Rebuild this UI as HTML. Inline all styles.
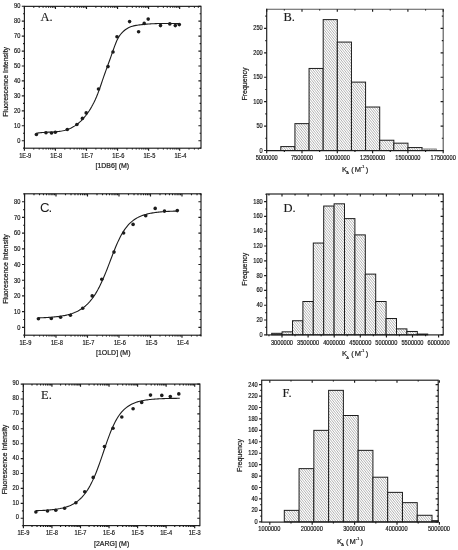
<!DOCTYPE html>
<html><head><meta charset="utf-8"><title>Figure</title><style>html,body{margin:0;padding:0;background:#fff}svg{display:block}</style></head><body>
<svg width="458" height="550" viewBox="0 0 458 550">
<defs><pattern id="hatch" width="12" height="3" patternUnits="userSpaceOnUse"><rect width="12" height="3" fill="#fff"/><path d="M-5.30,-1L-1.30,4 M-2.90,-1L1.10,4 M-0.50,-1L3.50,4 M1.90,-1L5.90,4 M4.30,-1L8.30,4 M6.70,-1L10.70,4 M9.10,-1L13.10,4 M11.50,-1L15.50,4" stroke="#929292" stroke-width="0.7" fill="none"/></pattern></defs>
<rect width="458" height="550" fill="#fff"/>
<rect x="24.40" y="6.35" width="176.60" height="141.85" fill="none" stroke="#1c1c1c" stroke-width="1.15"/>
<text transform="translate(20.40 142.50) scale(0.9,1)" font-size="6.3" text-anchor="end" font-family='"Liberation Sans", sans-serif' fill="#1c1c1c" stroke="#1c1c1c" stroke-width="0.2">0</text>
<text transform="translate(20.40 127.56) scale(0.9,1)" font-size="6.3" text-anchor="end" font-family='"Liberation Sans", sans-serif' fill="#1c1c1c" stroke="#1c1c1c" stroke-width="0.2">10</text>
<text transform="translate(20.40 112.62) scale(0.9,1)" font-size="6.3" text-anchor="end" font-family='"Liberation Sans", sans-serif' fill="#1c1c1c" stroke="#1c1c1c" stroke-width="0.2">20</text>
<text transform="translate(20.40 97.68) scale(0.9,1)" font-size="6.3" text-anchor="end" font-family='"Liberation Sans", sans-serif' fill="#1c1c1c" stroke="#1c1c1c" stroke-width="0.2">30</text>
<text transform="translate(20.40 82.74) scale(0.9,1)" font-size="6.3" text-anchor="end" font-family='"Liberation Sans", sans-serif' fill="#1c1c1c" stroke="#1c1c1c" stroke-width="0.2">40</text>
<text transform="translate(20.40 67.80) scale(0.9,1)" font-size="6.3" text-anchor="end" font-family='"Liberation Sans", sans-serif' fill="#1c1c1c" stroke="#1c1c1c" stroke-width="0.2">50</text>
<text transform="translate(20.40 52.86) scale(0.9,1)" font-size="6.3" text-anchor="end" font-family='"Liberation Sans", sans-serif' fill="#1c1c1c" stroke="#1c1c1c" stroke-width="0.2">60</text>
<text transform="translate(20.40 37.92) scale(0.9,1)" font-size="6.3" text-anchor="end" font-family='"Liberation Sans", sans-serif' fill="#1c1c1c" stroke="#1c1c1c" stroke-width="0.2">70</text>
<text transform="translate(20.40 22.98) scale(0.9,1)" font-size="6.3" text-anchor="end" font-family='"Liberation Sans", sans-serif' fill="#1c1c1c" stroke="#1c1c1c" stroke-width="0.2">80</text>
<text transform="translate(20.40 8.04) scale(0.9,1)" font-size="6.3" text-anchor="end" font-family='"Liberation Sans", sans-serif' fill="#1c1c1c" stroke="#1c1c1c" stroke-width="0.2">90</text>
<text transform="translate(25.20 157.90) scale(0.9,1)" font-size="6.3" text-anchor="middle" font-family='"Liberation Sans", sans-serif' fill="#1c1c1c" stroke="#1c1c1c" stroke-width="0.2">1E-9</text>
<text transform="translate(56.25 157.90) scale(0.9,1)" font-size="6.3" text-anchor="middle" font-family='"Liberation Sans", sans-serif' fill="#1c1c1c" stroke="#1c1c1c" stroke-width="0.2">1E-8</text>
<text transform="translate(87.30 157.90) scale(0.9,1)" font-size="6.3" text-anchor="middle" font-family='"Liberation Sans", sans-serif' fill="#1c1c1c" stroke="#1c1c1c" stroke-width="0.2">1E-7</text>
<text transform="translate(118.35 157.90) scale(0.9,1)" font-size="6.3" text-anchor="middle" font-family='"Liberation Sans", sans-serif' fill="#1c1c1c" stroke="#1c1c1c" stroke-width="0.2">1E-6</text>
<text transform="translate(149.40 157.90) scale(0.9,1)" font-size="6.3" text-anchor="middle" font-family='"Liberation Sans", sans-serif' fill="#1c1c1c" stroke="#1c1c1c" stroke-width="0.2">1E-5</text>
<text transform="translate(180.45 157.90) scale(0.9,1)" font-size="6.3" text-anchor="middle" font-family='"Liberation Sans", sans-serif' fill="#1c1c1c" stroke="#1c1c1c" stroke-width="0.2">1E-4</text>
<path d="M21.80,140.70L24.40,140.70M198.40,140.70L201.00,140.70M21.80,125.76L24.40,125.76M198.40,125.76L201.00,125.76M21.80,110.82L24.40,110.82M198.40,110.82L201.00,110.82M21.80,95.88L24.40,95.88M198.40,95.88L201.00,95.88M21.80,80.94L24.40,80.94M198.40,80.94L201.00,80.94M21.80,66.00L24.40,66.00M198.40,66.00L201.00,66.00M21.80,51.06L24.40,51.06M198.40,51.06L201.00,51.06M21.80,36.12L24.40,36.12M198.40,36.12L201.00,36.12M21.80,21.18L24.40,21.18M198.40,21.18L201.00,21.18M21.80,6.24L24.40,6.24M198.40,6.24L201.00,6.24M23.00,148.17L24.40,148.17M199.60,148.17L201.00,148.17M23.00,133.23L24.40,133.23M199.60,133.23L201.00,133.23M23.00,118.29L24.40,118.29M199.60,118.29L201.00,118.29M23.00,103.35L24.40,103.35M199.60,103.35L201.00,103.35M23.00,88.41L24.40,88.41M199.60,88.41L201.00,88.41M23.00,73.47L24.40,73.47M199.60,73.47L201.00,73.47M23.00,58.53L24.40,58.53M199.60,58.53L201.00,58.53M23.00,43.59L24.40,43.59M199.60,43.59L201.00,43.59M23.00,28.65L24.40,28.65M199.60,28.65L201.00,28.65M23.00,13.71L24.40,13.71M199.60,13.71L201.00,13.71M24.40,148.20L24.40,150.80M24.40,6.35L24.40,8.95M55.45,148.20L55.45,150.80M55.45,6.35L55.45,8.95M86.50,148.20L86.50,150.80M86.50,6.35L86.50,8.95M117.55,148.20L117.55,150.80M117.55,6.35L117.55,8.95M148.60,148.20L148.60,150.80M148.60,6.35L148.60,8.95M179.65,148.20L179.65,150.80M179.65,6.35L179.65,8.95M33.75,148.20L33.75,149.60M33.75,6.35L33.75,7.75M39.21,148.20L39.21,149.60M39.21,6.35L39.21,7.75M43.09,148.20L43.09,149.60M43.09,6.35L43.09,7.75M46.10,148.20L46.10,149.60M46.10,6.35L46.10,7.75M48.56,148.20L48.56,149.60M48.56,6.35L48.56,7.75M50.64,148.20L50.64,149.60M50.64,6.35L50.64,7.75M52.44,148.20L52.44,149.60M52.44,6.35L52.44,7.75M54.03,148.20L54.03,149.60M54.03,6.35L54.03,7.75M64.80,148.20L64.80,149.60M64.80,6.35L64.80,7.75M70.26,148.20L70.26,149.60M70.26,6.35L70.26,7.75M74.14,148.20L74.14,149.60M74.14,6.35L74.14,7.75M77.15,148.20L77.15,149.60M77.15,6.35L77.15,7.75M79.61,148.20L79.61,149.60M79.61,6.35L79.61,7.75M81.69,148.20L81.69,149.60M81.69,6.35L81.69,7.75M83.49,148.20L83.49,149.60M83.49,6.35L83.49,7.75M85.08,148.20L85.08,149.60M85.08,6.35L85.08,7.75M95.85,148.20L95.85,149.60M95.85,6.35L95.85,7.75M101.31,148.20L101.31,149.60M101.31,6.35L101.31,7.75M105.19,148.20L105.19,149.60M105.19,6.35L105.19,7.75M108.20,148.20L108.20,149.60M108.20,6.35L108.20,7.75M110.66,148.20L110.66,149.60M110.66,6.35L110.66,7.75M112.74,148.20L112.74,149.60M112.74,6.35L112.74,7.75M114.54,148.20L114.54,149.60M114.54,6.35L114.54,7.75M116.13,148.20L116.13,149.60M116.13,6.35L116.13,7.75M126.90,148.20L126.90,149.60M126.90,6.35L126.90,7.75M132.36,148.20L132.36,149.60M132.36,6.35L132.36,7.75M136.24,148.20L136.24,149.60M136.24,6.35L136.24,7.75M139.25,148.20L139.25,149.60M139.25,6.35L139.25,7.75M141.71,148.20L141.71,149.60M141.71,6.35L141.71,7.75M143.79,148.20L143.79,149.60M143.79,6.35L143.79,7.75M145.59,148.20L145.59,149.60M145.59,6.35L145.59,7.75M147.18,148.20L147.18,149.60M147.18,6.35L147.18,7.75M157.95,148.20L157.95,149.60M157.95,6.35L157.95,7.75M163.41,148.20L163.41,149.60M163.41,6.35L163.41,7.75M167.29,148.20L167.29,149.60M167.29,6.35L167.29,7.75M170.30,148.20L170.30,149.60M170.30,6.35L170.30,7.75M172.76,148.20L172.76,149.60M172.76,6.35L172.76,7.75M174.84,148.20L174.84,149.60M174.84,6.35L174.84,7.75M176.64,148.20L176.64,149.60M176.64,6.35L176.64,7.75M178.23,148.20L178.23,149.60M178.23,6.35L178.23,7.75M189.00,148.20L189.00,149.60M189.00,6.35L189.00,7.75M194.46,148.20L194.46,149.60M194.46,6.35L194.46,7.75M198.34,148.20L198.34,149.60M198.34,6.35L198.34,7.75" fill="none" stroke="#1c1c1c" stroke-width="1.15"/>
<path d="M36.40,133.30 L37.60,133.09 L38.80,132.91 L40.00,132.75 L41.20,132.62 L42.40,132.52 L43.61,132.43 L44.81,132.35 L46.01,132.28 L47.21,132.23 L48.41,132.17 L49.61,132.12 L50.81,132.07 L52.01,132.01 L53.21,131.95 L54.41,131.87 L55.61,131.78 L56.81,131.67 L58.02,131.55 L59.22,131.40 L60.42,131.22 L61.62,131.01 L62.82,130.77 L64.02,130.49 L65.22,130.18 L66.42,129.82 L67.62,129.41 L68.82,128.96 L70.02,128.46 L71.22,127.90 L72.43,127.28 L73.63,126.60 L74.83,125.86 L76.03,125.05 L77.23,124.17 L78.43,123.21 L79.63,122.18 L80.83,121.07 L82.03,119.87 L83.23,118.59 L84.43,117.22 L85.63,115.75 L86.84,114.19 L88.04,112.53 L89.24,110.75 L90.44,108.84 L91.64,106.79 L92.84,104.58 L94.04,102.21 L95.24,99.67 L96.44,96.93 L97.64,93.99 L98.84,90.84 L100.04,87.47 L101.25,83.97 L102.45,80.43 L103.65,76.94 L104.85,73.53 L106.05,70.18 L107.25,66.86 L108.45,63.55 L109.65,60.22 L110.85,56.84 L112.05,53.40 L113.25,49.95 L114.45,46.59 L115.66,43.44 L116.86,40.59 L118.06,38.14 L119.26,36.13 L120.46,34.48 L121.66,33.08 L122.86,31.85 L124.06,30.76 L125.26,29.79 L126.46,28.95 L127.66,28.22 L128.86,27.59 L130.07,27.05 L131.27,26.60 L132.47,26.21 L133.67,25.89 L134.87,25.62 L136.07,25.39 L137.27,25.19 L138.47,25.02 L139.67,24.87 L140.87,24.72 L142.07,24.59 L143.27,24.46 L144.48,24.34 L145.68,24.23 L146.88,24.13 L148.08,24.04 L149.28,23.96 L150.48,23.88 L151.68,23.81 L152.88,23.75 L154.08,23.69 L155.28,23.64 L156.48,23.60 L157.68,23.56 L158.89,23.55 L160.09,23.55 L161.29,23.55 L162.49,23.55 L163.69,23.55 L164.89,23.55 L166.09,23.55 L167.29,23.55 L168.49,23.55 L169.69,23.55 L170.89,23.55 L172.09,23.55 L173.30,23.55 L174.50,23.55 L175.70,23.57 L176.90,23.60 L178.10,23.63 L179.30,23.66" fill="none" stroke="#1c1c1c" stroke-width="1.1"/>
<circle cx="36.40" cy="134.50" r="1.8" fill="#1c1c1c"/>
<circle cx="46.00" cy="132.80" r="1.8" fill="#1c1c1c"/>
<circle cx="51.50" cy="133.00" r="1.8" fill="#1c1c1c"/>
<circle cx="55.30" cy="132.30" r="1.8" fill="#1c1c1c"/>
<circle cx="67.30" cy="129.50" r="1.8" fill="#1c1c1c"/>
<circle cx="76.90" cy="124.50" r="1.8" fill="#1c1c1c"/>
<circle cx="82.40" cy="118.40" r="1.8" fill="#1c1c1c"/>
<circle cx="86.20" cy="112.90" r="1.8" fill="#1c1c1c"/>
<circle cx="98.50" cy="89.00" r="1.8" fill="#1c1c1c"/>
<circle cx="108.00" cy="66.60" r="1.8" fill="#1c1c1c"/>
<circle cx="113.00" cy="52.00" r="1.8" fill="#1c1c1c"/>
<circle cx="117.00" cy="36.70" r="1.8" fill="#1c1c1c"/>
<circle cx="129.60" cy="21.60" r="1.8" fill="#1c1c1c"/>
<circle cx="138.60" cy="31.70" r="1.8" fill="#1c1c1c"/>
<circle cx="144.20" cy="23.40" r="1.8" fill="#1c1c1c"/>
<circle cx="148.20" cy="19.10" r="1.8" fill="#1c1c1c"/>
<circle cx="160.50" cy="25.60" r="1.8" fill="#1c1c1c"/>
<circle cx="169.80" cy="23.90" r="1.8" fill="#1c1c1c"/>
<circle cx="175.30" cy="25.60" r="1.8" fill="#1c1c1c"/>
<circle cx="179.30" cy="24.60" r="1.8" fill="#1c1c1c"/>
<text transform="translate(40.50 21.00)" font-size="12.5" text-anchor="start" font-family='"Liberation Serif", serif' fill="#1c1c1c" stroke="#1c1c1c" stroke-width="0.15">A.</text>
<text transform="translate(95.50 167.80) scale(0.93,1)" font-size="7.5" text-anchor="start" font-family='"Liberation Sans", sans-serif' fill="#1c1c1c" stroke="#1c1c1c" stroke-width="0.22">[1DB6] (M)</text>
<text transform="translate(7.60 81.80) rotate(-90) scale(0.93,1)" font-size="7.5" text-anchor="middle" font-family='"Liberation Sans", sans-serif' fill="#1c1c1c" stroke="#1c1c1c" stroke-width="0.22">Fluorescence Intensity</text>
<rect x="24.60" y="193.80" width="176.40" height="141.40" fill="none" stroke="#1c1c1c" stroke-width="1.15"/>
<text transform="translate(20.30 329.60) scale(0.9,1)" font-size="6.3" text-anchor="end" font-family='"Liberation Sans", sans-serif' fill="#1c1c1c" stroke="#1c1c1c" stroke-width="0.2">0</text>
<text transform="translate(20.30 313.90) scale(0.9,1)" font-size="6.3" text-anchor="end" font-family='"Liberation Sans", sans-serif' fill="#1c1c1c" stroke="#1c1c1c" stroke-width="0.2">10</text>
<text transform="translate(20.30 298.20) scale(0.9,1)" font-size="6.3" text-anchor="end" font-family='"Liberation Sans", sans-serif' fill="#1c1c1c" stroke="#1c1c1c" stroke-width="0.2">20</text>
<text transform="translate(20.30 282.50) scale(0.9,1)" font-size="6.3" text-anchor="end" font-family='"Liberation Sans", sans-serif' fill="#1c1c1c" stroke="#1c1c1c" stroke-width="0.2">30</text>
<text transform="translate(20.30 266.80) scale(0.9,1)" font-size="6.3" text-anchor="end" font-family='"Liberation Sans", sans-serif' fill="#1c1c1c" stroke="#1c1c1c" stroke-width="0.2">40</text>
<text transform="translate(20.30 251.10) scale(0.9,1)" font-size="6.3" text-anchor="end" font-family='"Liberation Sans", sans-serif' fill="#1c1c1c" stroke="#1c1c1c" stroke-width="0.2">50</text>
<text transform="translate(20.30 235.40) scale(0.9,1)" font-size="6.3" text-anchor="end" font-family='"Liberation Sans", sans-serif' fill="#1c1c1c" stroke="#1c1c1c" stroke-width="0.2">60</text>
<text transform="translate(20.30 219.70) scale(0.9,1)" font-size="6.3" text-anchor="end" font-family='"Liberation Sans", sans-serif' fill="#1c1c1c" stroke="#1c1c1c" stroke-width="0.2">70</text>
<text transform="translate(20.30 204.00) scale(0.9,1)" font-size="6.3" text-anchor="end" font-family='"Liberation Sans", sans-serif' fill="#1c1c1c" stroke="#1c1c1c" stroke-width="0.2">80</text>
<text transform="translate(25.40 345.10) scale(0.9,1)" font-size="6.3" text-anchor="middle" font-family='"Liberation Sans", sans-serif' fill="#1c1c1c" stroke="#1c1c1c" stroke-width="0.2">1E-9</text>
<text transform="translate(56.90 345.10) scale(0.9,1)" font-size="6.3" text-anchor="middle" font-family='"Liberation Sans", sans-serif' fill="#1c1c1c" stroke="#1c1c1c" stroke-width="0.2">1E-8</text>
<text transform="translate(88.40 345.10) scale(0.9,1)" font-size="6.3" text-anchor="middle" font-family='"Liberation Sans", sans-serif' fill="#1c1c1c" stroke="#1c1c1c" stroke-width="0.2">1E-7</text>
<text transform="translate(119.90 345.10) scale(0.9,1)" font-size="6.3" text-anchor="middle" font-family='"Liberation Sans", sans-serif' fill="#1c1c1c" stroke="#1c1c1c" stroke-width="0.2">1E-6</text>
<text transform="translate(151.40 345.10) scale(0.9,1)" font-size="6.3" text-anchor="middle" font-family='"Liberation Sans", sans-serif' fill="#1c1c1c" stroke="#1c1c1c" stroke-width="0.2">1E-5</text>
<text transform="translate(182.90 345.10) scale(0.9,1)" font-size="6.3" text-anchor="middle" font-family='"Liberation Sans", sans-serif' fill="#1c1c1c" stroke="#1c1c1c" stroke-width="0.2">1E-4</text>
<path d="M22.00,327.30L24.60,327.30M198.40,327.30L201.00,327.30M22.00,311.60L24.60,311.60M198.40,311.60L201.00,311.60M22.00,295.90L24.60,295.90M198.40,295.90L201.00,295.90M22.00,280.20L24.60,280.20M198.40,280.20L201.00,280.20M22.00,264.50L24.60,264.50M198.40,264.50L201.00,264.50M22.00,248.80L24.60,248.80M198.40,248.80L201.00,248.80M22.00,233.10L24.60,233.10M198.40,233.10L201.00,233.10M22.00,217.40L24.60,217.40M198.40,217.40L201.00,217.40M22.00,201.70L24.60,201.70M198.40,201.70L201.00,201.70M23.20,335.15L24.60,335.15M199.60,335.15L201.00,335.15M23.20,319.45L24.60,319.45M199.60,319.45L201.00,319.45M23.20,303.75L24.60,303.75M199.60,303.75L201.00,303.75M23.20,288.05L24.60,288.05M199.60,288.05L201.00,288.05M23.20,272.35L24.60,272.35M199.60,272.35L201.00,272.35M23.20,256.65L24.60,256.65M199.60,256.65L201.00,256.65M23.20,240.95L24.60,240.95M199.60,240.95L201.00,240.95M23.20,225.25L24.60,225.25M199.60,225.25L201.00,225.25M23.20,209.55L24.60,209.55M199.60,209.55L201.00,209.55M23.20,193.85L24.60,193.85M199.60,193.85L201.00,193.85M24.50,335.20L24.50,337.80M24.50,193.80L24.50,196.40M56.00,335.20L56.00,337.80M56.00,193.80L56.00,196.40M87.50,335.20L87.50,337.80M87.50,193.80L87.50,196.40M119.00,335.20L119.00,337.80M119.00,193.80L119.00,196.40M150.50,335.20L150.50,337.80M150.50,193.80L150.50,196.40M182.00,335.20L182.00,337.80M182.00,193.80L182.00,196.40M33.98,335.20L33.98,336.60M33.98,193.80L33.98,195.20M39.53,335.20L39.53,336.60M39.53,193.80L39.53,195.20M43.46,335.20L43.46,336.60M43.46,193.80L43.46,195.20M46.52,335.20L46.52,336.60M46.52,193.80L46.52,195.20M49.01,335.20L49.01,336.60M49.01,193.80L49.01,195.20M51.12,335.20L51.12,336.60M51.12,193.80L51.12,195.20M52.95,335.20L52.95,336.60M52.95,193.80L52.95,195.20M54.56,335.20L54.56,336.60M54.56,193.80L54.56,195.20M65.48,335.20L65.48,336.60M65.48,193.80L65.48,195.20M71.03,335.20L71.03,336.60M71.03,193.80L71.03,195.20M74.96,335.20L74.96,336.60M74.96,193.80L74.96,195.20M78.02,335.20L78.02,336.60M78.02,193.80L78.02,195.20M80.51,335.20L80.51,336.60M80.51,193.80L80.51,195.20M82.62,335.20L82.62,336.60M82.62,193.80L82.62,195.20M84.45,335.20L84.45,336.60M84.45,193.80L84.45,195.20M86.06,335.20L86.06,336.60M86.06,193.80L86.06,195.20M96.98,335.20L96.98,336.60M96.98,193.80L96.98,195.20M102.53,335.20L102.53,336.60M102.53,193.80L102.53,195.20M106.46,335.20L106.46,336.60M106.46,193.80L106.46,195.20M109.52,335.20L109.52,336.60M109.52,193.80L109.52,195.20M112.01,335.20L112.01,336.60M112.01,193.80L112.01,195.20M114.12,335.20L114.12,336.60M114.12,193.80L114.12,195.20M115.95,335.20L115.95,336.60M115.95,193.80L115.95,195.20M117.56,335.20L117.56,336.60M117.56,193.80L117.56,195.20M128.48,335.20L128.48,336.60M128.48,193.80L128.48,195.20M134.03,335.20L134.03,336.60M134.03,193.80L134.03,195.20M137.96,335.20L137.96,336.60M137.96,193.80L137.96,195.20M141.02,335.20L141.02,336.60M141.02,193.80L141.02,195.20M143.51,335.20L143.51,336.60M143.51,193.80L143.51,195.20M145.62,335.20L145.62,336.60M145.62,193.80L145.62,195.20M147.45,335.20L147.45,336.60M147.45,193.80L147.45,195.20M149.06,335.20L149.06,336.60M149.06,193.80L149.06,195.20M159.98,335.20L159.98,336.60M159.98,193.80L159.98,195.20M165.53,335.20L165.53,336.60M165.53,193.80L165.53,195.20M169.46,335.20L169.46,336.60M169.46,193.80L169.46,195.20M172.52,335.20L172.52,336.60M172.52,193.80L172.52,195.20M175.01,335.20L175.01,336.60M175.01,193.80L175.01,195.20M177.12,335.20L177.12,336.60M177.12,193.80L177.12,195.20M178.95,335.20L178.95,336.60M178.95,193.80L178.95,195.20M180.56,335.20L180.56,336.60M180.56,193.80L180.56,195.20M191.48,335.20L191.48,336.60M191.48,193.80L191.48,195.20M197.03,335.20L197.03,336.60M197.03,193.80L197.03,195.20M200.96,335.20L200.96,336.60M200.96,193.80L200.96,195.20" fill="none" stroke="#1c1c1c" stroke-width="1.15"/>
<path d="M38.40,317.86 L39.57,317.83 L40.73,317.79 L41.90,317.74 L43.07,317.70 L44.24,317.64 L45.40,317.59 L46.57,317.53 L47.74,317.46 L48.91,317.39 L50.07,317.31 L51.24,317.22 L52.41,317.13 L53.57,317.03 L54.74,316.92 L55.91,316.79 L57.08,316.66 L58.24,316.52 L59.41,316.36 L60.58,316.20 L61.74,316.01 L62.91,315.81 L64.08,315.59 L65.25,315.36 L66.41,315.10 L67.58,314.82 L68.75,314.51 L69.92,314.18 L71.08,313.82 L72.25,313.43 L73.42,313.01 L74.58,312.55 L75.75,312.05 L76.92,311.51 L78.09,310.92 L79.25,310.28 L80.42,309.59 L81.59,308.84 L82.75,308.03 L83.92,307.15 L85.09,306.21 L86.26,305.18 L87.42,304.07 L88.59,302.88 L89.76,301.60 L90.93,300.21 L92.09,298.73 L93.26,297.13 L94.43,295.43 L95.59,293.60 L96.76,291.65 L97.93,289.58 L99.10,287.38 L100.26,285.06 L101.43,282.61 L102.60,280.03 L103.76,277.34 L104.93,274.55 L106.10,271.66 L107.27,268.69 L108.43,265.66 L109.60,262.60 L110.77,259.51 L111.94,256.45 L113.10,253.41 L114.27,250.45 L115.44,247.57 L116.60,244.80 L117.77,242.15 L118.94,239.65 L120.11,237.29 L121.27,235.09 L122.44,233.04 L123.61,231.15 L124.77,229.40 L125.94,227.79 L127.11,226.31 L128.28,224.96 L129.44,223.72 L130.61,222.60 L131.78,221.57 L132.95,220.63 L134.11,219.77 L135.28,218.99 L136.45,218.28 L137.61,217.63 L138.78,217.04 L139.95,216.50 L141.12,216.00 L142.28,215.55 L143.45,215.14 L144.62,214.77 L145.78,214.42 L146.95,214.11 L148.12,213.83 L149.29,213.56 L150.45,213.32 L151.62,213.11 L152.79,212.90 L153.96,212.72 L155.12,212.55 L156.29,212.40 L157.46,212.26 L158.62,212.13 L159.79,212.01 L160.96,211.90 L162.13,211.80 L163.29,211.71 L164.46,211.63 L165.63,211.55 L166.79,211.48 L167.96,211.42 L169.13,211.36 L170.30,211.30 L171.46,211.25 L172.63,211.21 L173.80,211.17 L174.97,211.13 L176.13,211.09 L177.30,211.06" fill="none" stroke="#1c1c1c" stroke-width="1.1"/>
<circle cx="38.40" cy="318.70" r="1.8" fill="#1c1c1c"/>
<circle cx="51.30" cy="318.50" r="1.8" fill="#1c1c1c"/>
<circle cx="60.60" cy="317.20" r="1.8" fill="#1c1c1c"/>
<circle cx="70.40" cy="315.20" r="1.8" fill="#1c1c1c"/>
<circle cx="82.70" cy="308.20" r="1.8" fill="#1c1c1c"/>
<circle cx="92.20" cy="295.90" r="1.8" fill="#1c1c1c"/>
<circle cx="101.80" cy="279.30" r="1.8" fill="#1c1c1c"/>
<circle cx="114.00" cy="252.10" r="1.8" fill="#1c1c1c"/>
<circle cx="123.60" cy="233.00" r="1.8" fill="#1c1c1c"/>
<circle cx="133.10" cy="224.40" r="1.8" fill="#1c1c1c"/>
<circle cx="145.70" cy="215.70" r="1.8" fill="#1c1c1c"/>
<circle cx="155.20" cy="208.40" r="1.8" fill="#1c1c1c"/>
<circle cx="164.50" cy="211.10" r="1.8" fill="#1c1c1c"/>
<circle cx="177.30" cy="210.60" r="1.8" fill="#1c1c1c"/>
<text transform="translate(40.00 212.00) scale(1.1,1)" font-size="12" text-anchor="start" font-family='"Liberation Sans", sans-serif' fill="#1c1c1c" stroke="#1c1c1c" stroke-width="0" letter-spacing="-0.9">C.</text>
<text transform="translate(96.00 355.00) scale(0.93,1)" font-size="7.5" text-anchor="start" font-family='"Liberation Sans", sans-serif' fill="#1c1c1c" stroke="#1c1c1c" stroke-width="0.22">[1OLD] (M)</text>
<text transform="translate(7.60 269.00) rotate(-90) scale(0.93,1)" font-size="7.5" text-anchor="middle" font-family='"Liberation Sans", sans-serif' fill="#1c1c1c" stroke="#1c1c1c" stroke-width="0.22">Fluorescence Intensity</text>
<rect x="23.30" y="384.05" width="176.60" height="141.55" fill="none" stroke="#1c1c1c" stroke-width="1.15"/>
<text transform="translate(18.80 519.45) scale(0.9,1)" font-size="6.3" text-anchor="end" font-family='"Liberation Sans", sans-serif' fill="#1c1c1c" stroke="#1c1c1c" stroke-width="0.2">0</text>
<text transform="translate(18.80 504.54) scale(0.9,1)" font-size="6.3" text-anchor="end" font-family='"Liberation Sans", sans-serif' fill="#1c1c1c" stroke="#1c1c1c" stroke-width="0.2">10</text>
<text transform="translate(18.80 489.63) scale(0.9,1)" font-size="6.3" text-anchor="end" font-family='"Liberation Sans", sans-serif' fill="#1c1c1c" stroke="#1c1c1c" stroke-width="0.2">20</text>
<text transform="translate(18.80 474.72) scale(0.9,1)" font-size="6.3" text-anchor="end" font-family='"Liberation Sans", sans-serif' fill="#1c1c1c" stroke="#1c1c1c" stroke-width="0.2">30</text>
<text transform="translate(18.80 459.81) scale(0.9,1)" font-size="6.3" text-anchor="end" font-family='"Liberation Sans", sans-serif' fill="#1c1c1c" stroke="#1c1c1c" stroke-width="0.2">40</text>
<text transform="translate(18.80 444.90) scale(0.9,1)" font-size="6.3" text-anchor="end" font-family='"Liberation Sans", sans-serif' fill="#1c1c1c" stroke="#1c1c1c" stroke-width="0.2">50</text>
<text transform="translate(18.80 429.99) scale(0.9,1)" font-size="6.3" text-anchor="end" font-family='"Liberation Sans", sans-serif' fill="#1c1c1c" stroke="#1c1c1c" stroke-width="0.2">60</text>
<text transform="translate(18.80 415.08) scale(0.9,1)" font-size="6.3" text-anchor="end" font-family='"Liberation Sans", sans-serif' fill="#1c1c1c" stroke="#1c1c1c" stroke-width="0.2">70</text>
<text transform="translate(18.80 400.17) scale(0.9,1)" font-size="6.3" text-anchor="end" font-family='"Liberation Sans", sans-serif' fill="#1c1c1c" stroke="#1c1c1c" stroke-width="0.2">80</text>
<text transform="translate(18.80 385.26) scale(0.9,1)" font-size="6.3" text-anchor="end" font-family='"Liberation Sans", sans-serif' fill="#1c1c1c" stroke="#1c1c1c" stroke-width="0.2">90</text>
<text transform="translate(23.40 534.50) scale(0.9,1)" font-size="6.3" text-anchor="middle" font-family='"Liberation Sans", sans-serif' fill="#1c1c1c" stroke="#1c1c1c" stroke-width="0.2">1E-9</text>
<text transform="translate(51.95 534.50) scale(0.9,1)" font-size="6.3" text-anchor="middle" font-family='"Liberation Sans", sans-serif' fill="#1c1c1c" stroke="#1c1c1c" stroke-width="0.2">1E-8</text>
<text transform="translate(80.50 534.50) scale(0.9,1)" font-size="6.3" text-anchor="middle" font-family='"Liberation Sans", sans-serif' fill="#1c1c1c" stroke="#1c1c1c" stroke-width="0.2">1E-7</text>
<text transform="translate(109.05 534.50) scale(0.9,1)" font-size="6.3" text-anchor="middle" font-family='"Liberation Sans", sans-serif' fill="#1c1c1c" stroke="#1c1c1c" stroke-width="0.2">1E-6</text>
<text transform="translate(137.60 534.50) scale(0.9,1)" font-size="6.3" text-anchor="middle" font-family='"Liberation Sans", sans-serif' fill="#1c1c1c" stroke="#1c1c1c" stroke-width="0.2">1E-5</text>
<text transform="translate(166.15 534.50) scale(0.9,1)" font-size="6.3" text-anchor="middle" font-family='"Liberation Sans", sans-serif' fill="#1c1c1c" stroke="#1c1c1c" stroke-width="0.2">1E-4</text>
<text transform="translate(194.70 534.50) scale(0.9,1)" font-size="6.3" text-anchor="middle" font-family='"Liberation Sans", sans-serif' fill="#1c1c1c" stroke="#1c1c1c" stroke-width="0.2">1E-3</text>
<path d="M20.70,518.25L23.30,518.25M197.30,518.25L199.90,518.25M20.70,503.34L23.30,503.34M197.30,503.34L199.90,503.34M20.70,488.43L23.30,488.43M197.30,488.43L199.90,488.43M20.70,473.52L23.30,473.52M197.30,473.52L199.90,473.52M20.70,458.61L23.30,458.61M197.30,458.61L199.90,458.61M20.70,443.70L23.30,443.70M197.30,443.70L199.90,443.70M20.70,428.79L23.30,428.79M197.30,428.79L199.90,428.79M20.70,413.88L23.30,413.88M197.30,413.88L199.90,413.88M20.70,398.97L23.30,398.97M197.30,398.97L199.90,398.97M20.70,384.06L23.30,384.06M197.30,384.06L199.90,384.06M21.90,525.71L23.30,525.71M198.50,525.71L199.90,525.71M21.90,510.80L23.30,510.80M198.50,510.80L199.90,510.80M21.90,495.89L23.30,495.89M198.50,495.89L199.90,495.89M21.90,480.98L23.30,480.98M198.50,480.98L199.90,480.98M21.90,466.07L23.30,466.07M198.50,466.07L199.90,466.07M21.90,451.16L23.30,451.16M198.50,451.16L199.90,451.16M21.90,436.25L23.30,436.25M198.50,436.25L199.90,436.25M21.90,421.34L23.30,421.34M198.50,421.34L199.90,421.34M21.90,406.43L23.30,406.43M198.50,406.43L199.90,406.43M21.90,391.52L23.30,391.52M198.50,391.52L199.90,391.52M23.40,525.60L23.40,528.20M23.40,384.05L23.40,386.65M51.95,525.60L51.95,528.20M51.95,384.05L51.95,386.65M80.50,525.60L80.50,528.20M80.50,384.05L80.50,386.65M109.05,525.60L109.05,528.20M109.05,384.05L109.05,386.65M137.60,525.60L137.60,528.20M137.60,384.05L137.60,386.65M166.15,525.60L166.15,528.20M166.15,384.05L166.15,386.65M194.70,525.60L194.70,528.20M194.70,384.05L194.70,386.65M31.99,525.60L31.99,527.00M31.99,384.05L31.99,385.45M37.02,525.60L37.02,527.00M37.02,384.05L37.02,385.45M40.59,525.60L40.59,527.00M40.59,384.05L40.59,385.45M43.36,525.60L43.36,527.00M43.36,384.05L43.36,385.45M45.62,525.60L45.62,527.00M45.62,384.05L45.62,385.45M47.53,525.60L47.53,527.00M47.53,384.05L47.53,385.45M49.18,525.60L49.18,527.00M49.18,384.05L49.18,385.45M50.64,525.60L50.64,527.00M50.64,384.05L50.64,385.45M60.54,525.60L60.54,527.00M60.54,384.05L60.54,385.45M65.57,525.60L65.57,527.00M65.57,384.05L65.57,385.45M69.14,525.60L69.14,527.00M69.14,384.05L69.14,385.45M71.91,525.60L71.91,527.00M71.91,384.05L71.91,385.45M74.17,525.60L74.17,527.00M74.17,384.05L74.17,385.45M76.08,525.60L76.08,527.00M76.08,384.05L76.08,385.45M77.73,525.60L77.73,527.00M77.73,384.05L77.73,385.45M79.19,525.60L79.19,527.00M79.19,384.05L79.19,385.45M89.09,525.60L89.09,527.00M89.09,384.05L89.09,385.45M94.12,525.60L94.12,527.00M94.12,384.05L94.12,385.45M97.69,525.60L97.69,527.00M97.69,384.05L97.69,385.45M100.46,525.60L100.46,527.00M100.46,384.05L100.46,385.45M102.72,525.60L102.72,527.00M102.72,384.05L102.72,385.45M104.63,525.60L104.63,527.00M104.63,384.05L104.63,385.45M106.28,525.60L106.28,527.00M106.28,384.05L106.28,385.45M107.74,525.60L107.74,527.00M107.74,384.05L107.74,385.45M117.64,525.60L117.64,527.00M117.64,384.05L117.64,385.45M122.67,525.60L122.67,527.00M122.67,384.05L122.67,385.45M126.24,525.60L126.24,527.00M126.24,384.05L126.24,385.45M129.01,525.60L129.01,527.00M129.01,384.05L129.01,385.45M131.27,525.60L131.27,527.00M131.27,384.05L131.27,385.45M133.18,525.60L133.18,527.00M133.18,384.05L133.18,385.45M134.83,525.60L134.83,527.00M134.83,384.05L134.83,385.45M136.29,525.60L136.29,527.00M136.29,384.05L136.29,385.45M146.19,525.60L146.19,527.00M146.19,384.05L146.19,385.45M151.22,525.60L151.22,527.00M151.22,384.05L151.22,385.45M154.79,525.60L154.79,527.00M154.79,384.05L154.79,385.45M157.56,525.60L157.56,527.00M157.56,384.05L157.56,385.45M159.82,525.60L159.82,527.00M159.82,384.05L159.82,385.45M161.73,525.60L161.73,527.00M161.73,384.05L161.73,385.45M163.38,525.60L163.38,527.00M163.38,384.05L163.38,385.45M164.84,525.60L164.84,527.00M164.84,384.05L164.84,385.45M174.74,525.60L174.74,527.00M174.74,384.05L174.74,385.45M179.77,525.60L179.77,527.00M179.77,384.05L179.77,385.45M183.34,525.60L183.34,527.00M183.34,384.05L183.34,385.45M186.11,525.60L186.11,527.00M186.11,384.05L186.11,385.45M188.37,525.60L188.37,527.00M188.37,384.05L188.37,385.45M190.28,525.60L190.28,527.00M190.28,384.05L190.28,385.45M191.93,525.60L191.93,527.00M191.93,384.05L191.93,385.45M193.39,525.60L193.39,527.00M193.39,384.05L193.39,385.45" fill="none" stroke="#1c1c1c" stroke-width="1.15"/>
<path d="M35.90,510.67 L37.11,510.64 L38.32,510.60 L39.53,510.55 L40.74,510.51 L41.95,510.45 L43.16,510.39 L44.36,510.33 L45.57,510.26 L46.78,510.18 L47.99,510.09 L49.20,510.00 L50.41,509.89 L51.62,509.78 L52.83,509.65 L54.04,509.51 L55.25,509.36 L56.46,509.19 L57.67,509.00 L58.88,508.79 L60.08,508.57 L61.29,508.31 L62.50,508.04 L63.71,507.74 L64.92,507.40 L66.13,507.03 L67.34,506.63 L68.55,506.18 L69.76,505.70 L70.97,505.16 L72.18,504.57 L73.39,503.92 L74.60,503.21 L75.81,502.43 L77.01,501.58 L78.22,500.64 L79.43,499.62 L80.64,498.50 L81.85,497.28 L83.06,495.95 L84.27,494.50 L85.48,492.92 L86.69,491.21 L87.90,489.36 L89.11,487.35 L90.32,485.19 L91.53,482.87 L92.73,480.38 L93.94,477.73 L95.15,474.91 L96.36,471.93 L97.57,468.81 L98.78,465.54 L99.99,462.15 L101.20,458.67 L102.41,455.13 L103.62,451.54 L104.83,447.96 L106.04,444.42 L107.25,440.94 L108.45,437.58 L109.66,434.35 L110.87,431.28 L112.08,428.39 L113.29,425.69 L114.50,423.18 L115.71,420.86 L116.92,418.74 L118.13,416.79 L119.34,415.02 L120.55,413.41 L121.76,411.95 L122.97,410.62 L124.17,409.43 L125.38,408.34 L126.59,407.37 L127.80,406.48 L129.01,405.69 L130.22,404.97 L131.43,404.32 L132.64,403.73 L133.85,403.20 L135.06,402.72 L136.27,402.29 L137.48,401.90 L138.69,401.55 L139.89,401.23 L141.10,400.94 L142.31,400.68 L143.52,400.44 L144.73,400.23 L145.94,400.03 L147.15,399.86 L148.36,399.70 L149.57,399.56 L150.78,399.43 L151.99,399.31 L153.20,399.21 L154.41,399.11 L155.62,399.02 L156.82,398.94 L158.03,398.87 L159.24,398.81 L160.45,398.75 L161.66,398.69 L162.87,398.65 L164.08,398.60 L165.29,398.56 L166.50,398.53 L167.71,398.49 L168.92,398.47 L170.13,398.44 L171.34,398.41 L172.54,398.39 L173.75,398.37 L174.96,398.35 L176.17,398.34 L177.38,398.32 L178.59,398.31 L179.80,398.30" fill="none" stroke="#1c1c1c" stroke-width="1.1"/>
<circle cx="35.90" cy="512.00" r="1.8" fill="#1c1c1c"/>
<circle cx="47.50" cy="511.00" r="1.8" fill="#1c1c1c"/>
<circle cx="55.80" cy="510.30" r="1.8" fill="#1c1c1c"/>
<circle cx="64.60" cy="508.30" r="1.8" fill="#1c1c1c"/>
<circle cx="75.90" cy="502.70" r="1.8" fill="#1c1c1c"/>
<circle cx="84.70" cy="491.70" r="1.8" fill="#1c1c1c"/>
<circle cx="93.20" cy="477.40" r="1.8" fill="#1c1c1c"/>
<circle cx="104.50" cy="446.60" r="1.8" fill="#1c1c1c"/>
<circle cx="113.00" cy="428.20" r="1.8" fill="#1c1c1c"/>
<circle cx="121.80" cy="417.00" r="1.8" fill="#1c1c1c"/>
<circle cx="133.10" cy="408.70" r="1.8" fill="#1c1c1c"/>
<circle cx="141.70" cy="402.40" r="1.8" fill="#1c1c1c"/>
<circle cx="150.50" cy="395.10" r="1.8" fill="#1c1c1c"/>
<circle cx="161.80" cy="395.40" r="1.8" fill="#1c1c1c"/>
<circle cx="170.30" cy="396.60" r="1.8" fill="#1c1c1c"/>
<circle cx="178.80" cy="393.90" r="1.8" fill="#1c1c1c"/>
<text transform="translate(41.00 398.50)" font-size="12.5" text-anchor="start" font-family='"Liberation Serif", serif' fill="#1c1c1c" stroke="#1c1c1c" stroke-width="0.15">E.</text>
<text transform="translate(94.00 545.50) scale(0.93,1)" font-size="7.5" text-anchor="start" font-family='"Liberation Sans", sans-serif' fill="#1c1c1c" stroke="#1c1c1c" stroke-width="0.22">[2ARG] (M)</text>
<text transform="translate(6.90 459.50) rotate(-90) scale(0.93,1)" font-size="7.5" text-anchor="middle" font-family='"Liberation Sans", sans-serif' fill="#1c1c1c" stroke="#1c1c1c" stroke-width="0.22">Fluorescence Intensity</text>
<rect x="280.80" y="146.59" width="14.13" height="3.91" fill="url(#hatch)" stroke="#1c1c1c" stroke-width="1.0"/>
<rect x="294.93" y="123.64" width="14.13" height="26.86" fill="url(#hatch)" stroke="#1c1c1c" stroke-width="1.0"/>
<rect x="309.06" y="68.45" width="14.13" height="82.05" fill="url(#hatch)" stroke="#1c1c1c" stroke-width="1.0"/>
<rect x="323.19" y="19.61" width="14.13" height="130.89" fill="url(#hatch)" stroke="#1c1c1c" stroke-width="1.0"/>
<rect x="337.32" y="42.08" width="14.13" height="108.42" fill="url(#hatch)" stroke="#1c1c1c" stroke-width="1.0"/>
<rect x="351.45" y="82.12" width="14.13" height="68.38" fill="url(#hatch)" stroke="#1c1c1c" stroke-width="1.0"/>
<rect x="365.58" y="107.03" width="14.13" height="43.47" fill="url(#hatch)" stroke="#1c1c1c" stroke-width="1.0"/>
<rect x="379.71" y="140.24" width="14.13" height="10.26" fill="url(#hatch)" stroke="#1c1c1c" stroke-width="1.0"/>
<rect x="393.84" y="143.17" width="14.13" height="7.33" fill="url(#hatch)" stroke="#1c1c1c" stroke-width="1.0"/>
<rect x="407.97" y="147.57" width="14.13" height="2.93" fill="url(#hatch)" stroke="#1c1c1c" stroke-width="1.0"/>
<rect x="422.10" y="149.03" width="14.13" height="1.47" fill="url(#hatch)" stroke="#777" stroke-width="1.0"/>
<path d="M266.70,9.20H443.20V150.60" fill="none" stroke="#585858" stroke-width="1.15" stroke-linecap="square"/>
<path d="M266.70,9.20V150.60H443.20" fill="none" stroke="#1c1c1c" stroke-width="1.15" stroke-linecap="square"/>
<text transform="translate(262.70 152.50) scale(0.9,1)" font-size="6.3" text-anchor="end" font-family='"Liberation Sans", sans-serif' fill="#1c1c1c" stroke="#1c1c1c" stroke-width="0.2">0</text>
<text transform="translate(262.70 128.08) scale(0.9,1)" font-size="6.3" text-anchor="end" font-family='"Liberation Sans", sans-serif' fill="#1c1c1c" stroke="#1c1c1c" stroke-width="0.2">50</text>
<text transform="translate(262.70 103.66) scale(0.9,1)" font-size="6.3" text-anchor="end" font-family='"Liberation Sans", sans-serif' fill="#1c1c1c" stroke="#1c1c1c" stroke-width="0.2">100</text>
<text transform="translate(262.70 79.24) scale(0.9,1)" font-size="6.3" text-anchor="end" font-family='"Liberation Sans", sans-serif' fill="#1c1c1c" stroke="#1c1c1c" stroke-width="0.2">150</text>
<text transform="translate(262.70 54.82) scale(0.9,1)" font-size="6.3" text-anchor="end" font-family='"Liberation Sans", sans-serif' fill="#1c1c1c" stroke="#1c1c1c" stroke-width="0.2">200</text>
<text transform="translate(262.70 30.40) scale(0.9,1)" font-size="6.3" text-anchor="end" font-family='"Liberation Sans", sans-serif' fill="#1c1c1c" stroke="#1c1c1c" stroke-width="0.2">250</text>
<text transform="translate(266.70 160.20) scale(0.9,1)" font-size="6.3" text-anchor="middle" font-family='"Liberation Sans", sans-serif' fill="#1c1c1c" stroke="#1c1c1c" stroke-width="0.2">5000000</text>
<text transform="translate(302.00 160.20) scale(0.9,1)" font-size="6.3" text-anchor="middle" font-family='"Liberation Sans", sans-serif' fill="#1c1c1c" stroke="#1c1c1c" stroke-width="0.2">7500000</text>
<text transform="translate(337.30 160.20) scale(0.9,1)" font-size="6.3" text-anchor="middle" font-family='"Liberation Sans", sans-serif' fill="#1c1c1c" stroke="#1c1c1c" stroke-width="0.2">10000000</text>
<text transform="translate(372.60 160.20) scale(0.9,1)" font-size="6.3" text-anchor="middle" font-family='"Liberation Sans", sans-serif' fill="#1c1c1c" stroke="#1c1c1c" stroke-width="0.2">12500000</text>
<text transform="translate(407.90 160.20) scale(0.9,1)" font-size="6.3" text-anchor="middle" font-family='"Liberation Sans", sans-serif' fill="#1c1c1c" stroke="#1c1c1c" stroke-width="0.2">15000000</text>
<text transform="translate(443.20 160.20) scale(0.9,1)" font-size="6.3" text-anchor="middle" font-family='"Liberation Sans", sans-serif' fill="#1c1c1c" stroke="#1c1c1c" stroke-width="0.2">17500000</text>
<path d="M264.10,150.50L266.70,150.50M440.60,150.50L443.20,150.50M264.10,126.08L266.70,126.08M440.60,126.08L443.20,126.08M264.10,101.66L266.70,101.66M440.60,101.66L443.20,101.66M264.10,77.24L266.70,77.24M440.60,77.24L443.20,77.24M264.10,52.82L266.70,52.82M440.60,52.82L443.20,52.82M264.10,28.40L266.70,28.40M440.60,28.40L443.20,28.40M265.30,138.29L266.70,138.29M441.80,138.29L443.20,138.29M265.30,113.87L266.70,113.87M441.80,113.87L443.20,113.87M265.30,89.45L266.70,89.45M441.80,89.45L443.20,89.45M265.30,65.03L266.70,65.03M441.80,65.03L443.20,65.03M265.30,40.61L266.70,40.61M441.80,40.61L443.20,40.61M265.30,16.19L266.70,16.19M441.80,16.19L443.20,16.19M266.70,150.60L266.70,153.20M266.70,9.20L266.70,11.80M302.00,150.60L302.00,153.20M302.00,9.20L302.00,11.80M337.30,150.60L337.30,153.20M337.30,9.20L337.30,11.80M372.60,150.60L372.60,153.20M372.60,9.20L372.60,11.80M407.90,150.60L407.90,153.20M407.90,9.20L407.90,11.80M443.20,150.60L443.20,153.20M443.20,9.20L443.20,11.80M284.35,150.60L284.35,152.00M284.35,9.20L284.35,10.60M319.65,150.60L319.65,152.00M319.65,9.20L319.65,10.60M354.95,150.60L354.95,152.00M354.95,9.20L354.95,10.60M390.25,150.60L390.25,152.00M390.25,9.20L390.25,10.60M425.55,150.60L425.55,152.00M425.55,9.20L425.55,10.60" fill="none" stroke="#1c1c1c" stroke-width="1.15"/>
<text transform="translate(283.50 20.50)" font-size="12.5" text-anchor="start" font-family='"Liberation Serif", serif' fill="#1c1c1c" stroke="#1c1c1c" stroke-width="0.15">B.</text>
<text font-family='"Liberation Sans", sans-serif' fill="#1c1c1c" stroke="#1c1c1c" stroke-width="0.2" font-size="7.5"><tspan x="342.00" y="171.60">K</tspan><tspan x="346.30" y="173.90" font-size="4">A</tspan><tspan x="351.15" y="171.60">(</tspan><tspan x="354.70" y="171.60">M</tspan><tspan x="361.10" y="168.10" font-size="3.6">-1</tspan><tspan x="365.70" y="171.60">)</tspan></text>
<text transform="translate(247.00 84.00) rotate(-90) scale(0.93,1)" font-size="7.5" text-anchor="middle" font-family='"Liberation Sans", sans-serif' fill="#1c1c1c" stroke="#1c1c1c" stroke-width="0.22">Frequency</text>
<rect x="271.70" y="333.32" width="10.40" height="1.48" fill="url(#hatch)" stroke="#1c1c1c" stroke-width="1.0"/>
<rect x="282.10" y="331.84" width="10.40" height="2.96" fill="url(#hatch)" stroke="#1c1c1c" stroke-width="1.0"/>
<rect x="292.50" y="320.74" width="10.40" height="14.06" fill="url(#hatch)" stroke="#1c1c1c" stroke-width="1.0"/>
<rect x="302.90" y="301.50" width="10.40" height="33.30" fill="url(#hatch)" stroke="#1c1c1c" stroke-width="1.0"/>
<rect x="313.30" y="243.04" width="10.40" height="91.76" fill="url(#hatch)" stroke="#1c1c1c" stroke-width="1.0"/>
<rect x="323.70" y="206.04" width="10.40" height="128.76" fill="url(#hatch)" stroke="#1c1c1c" stroke-width="1.0"/>
<rect x="334.10" y="203.82" width="10.40" height="130.98" fill="url(#hatch)" stroke="#1c1c1c" stroke-width="1.0"/>
<rect x="344.50" y="218.62" width="10.40" height="116.18" fill="url(#hatch)" stroke="#1c1c1c" stroke-width="1.0"/>
<rect x="354.90" y="234.90" width="10.40" height="99.90" fill="url(#hatch)" stroke="#1c1c1c" stroke-width="1.0"/>
<rect x="365.30" y="274.12" width="10.40" height="60.68" fill="url(#hatch)" stroke="#1c1c1c" stroke-width="1.0"/>
<rect x="375.70" y="301.50" width="10.40" height="33.30" fill="url(#hatch)" stroke="#1c1c1c" stroke-width="1.0"/>
<rect x="386.10" y="318.52" width="10.40" height="16.28" fill="url(#hatch)" stroke="#1c1c1c" stroke-width="1.0"/>
<rect x="396.50" y="328.88" width="10.40" height="5.92" fill="url(#hatch)" stroke="#1c1c1c" stroke-width="1.0"/>
<rect x="406.90" y="331.47" width="10.40" height="3.33" fill="url(#hatch)" stroke="#1c1c1c" stroke-width="1.0"/>
<rect x="417.30" y="334.06" width="10.40" height="0.74" fill="url(#hatch)" stroke="#1c1c1c" stroke-width="1.0"/>
<rect x="266.70" y="194.00" width="176.50" height="140.90" fill="none" stroke="#1c1c1c" stroke-width="1.15"/>
<text transform="translate(262.70 336.80) scale(0.9,1)" font-size="6.3" text-anchor="end" font-family='"Liberation Sans", sans-serif' fill="#1c1c1c" stroke="#1c1c1c" stroke-width="0.2">0</text>
<text transform="translate(262.70 322.00) scale(0.9,1)" font-size="6.3" text-anchor="end" font-family='"Liberation Sans", sans-serif' fill="#1c1c1c" stroke="#1c1c1c" stroke-width="0.2">20</text>
<text transform="translate(262.70 307.20) scale(0.9,1)" font-size="6.3" text-anchor="end" font-family='"Liberation Sans", sans-serif' fill="#1c1c1c" stroke="#1c1c1c" stroke-width="0.2">40</text>
<text transform="translate(262.70 292.40) scale(0.9,1)" font-size="6.3" text-anchor="end" font-family='"Liberation Sans", sans-serif' fill="#1c1c1c" stroke="#1c1c1c" stroke-width="0.2">60</text>
<text transform="translate(262.70 277.60) scale(0.9,1)" font-size="6.3" text-anchor="end" font-family='"Liberation Sans", sans-serif' fill="#1c1c1c" stroke="#1c1c1c" stroke-width="0.2">80</text>
<text transform="translate(262.70 262.80) scale(0.9,1)" font-size="6.3" text-anchor="end" font-family='"Liberation Sans", sans-serif' fill="#1c1c1c" stroke="#1c1c1c" stroke-width="0.2">100</text>
<text transform="translate(262.70 248.00) scale(0.9,1)" font-size="6.3" text-anchor="end" font-family='"Liberation Sans", sans-serif' fill="#1c1c1c" stroke="#1c1c1c" stroke-width="0.2">120</text>
<text transform="translate(262.70 233.20) scale(0.9,1)" font-size="6.3" text-anchor="end" font-family='"Liberation Sans", sans-serif' fill="#1c1c1c" stroke="#1c1c1c" stroke-width="0.2">140</text>
<text transform="translate(262.70 218.40) scale(0.9,1)" font-size="6.3" text-anchor="end" font-family='"Liberation Sans", sans-serif' fill="#1c1c1c" stroke="#1c1c1c" stroke-width="0.2">160</text>
<text transform="translate(262.70 203.60) scale(0.9,1)" font-size="6.3" text-anchor="end" font-family='"Liberation Sans", sans-serif' fill="#1c1c1c" stroke="#1c1c1c" stroke-width="0.2">180</text>
<text transform="translate(282.00 344.70) scale(0.9,1)" font-size="6.3" text-anchor="middle" font-family='"Liberation Sans", sans-serif' fill="#1c1c1c" stroke="#1c1c1c" stroke-width="0.2">3000000</text>
<text transform="translate(308.10 344.70) scale(0.9,1)" font-size="6.3" text-anchor="middle" font-family='"Liberation Sans", sans-serif' fill="#1c1c1c" stroke="#1c1c1c" stroke-width="0.2">3500000</text>
<text transform="translate(334.20 344.70) scale(0.9,1)" font-size="6.3" text-anchor="middle" font-family='"Liberation Sans", sans-serif' fill="#1c1c1c" stroke="#1c1c1c" stroke-width="0.2">4000000</text>
<text transform="translate(360.30 344.70) scale(0.9,1)" font-size="6.3" text-anchor="middle" font-family='"Liberation Sans", sans-serif' fill="#1c1c1c" stroke="#1c1c1c" stroke-width="0.2">4500000</text>
<text transform="translate(386.40 344.70) scale(0.9,1)" font-size="6.3" text-anchor="middle" font-family='"Liberation Sans", sans-serif' fill="#1c1c1c" stroke="#1c1c1c" stroke-width="0.2">5000000</text>
<text transform="translate(412.50 344.70) scale(0.9,1)" font-size="6.3" text-anchor="middle" font-family='"Liberation Sans", sans-serif' fill="#1c1c1c" stroke="#1c1c1c" stroke-width="0.2">5500000</text>
<text transform="translate(438.60 344.70) scale(0.9,1)" font-size="6.3" text-anchor="middle" font-family='"Liberation Sans", sans-serif' fill="#1c1c1c" stroke="#1c1c1c" stroke-width="0.2">6000000</text>
<path d="M264.10,334.80L266.70,334.80M440.60,334.80L443.20,334.80M264.10,320.00L266.70,320.00M440.60,320.00L443.20,320.00M264.10,305.20L266.70,305.20M440.60,305.20L443.20,305.20M264.10,290.40L266.70,290.40M440.60,290.40L443.20,290.40M264.10,275.60L266.70,275.60M440.60,275.60L443.20,275.60M264.10,260.80L266.70,260.80M440.60,260.80L443.20,260.80M264.10,246.00L266.70,246.00M440.60,246.00L443.20,246.00M264.10,231.20L266.70,231.20M440.60,231.20L443.20,231.20M264.10,216.40L266.70,216.40M440.60,216.40L443.20,216.40M264.10,201.60L266.70,201.60M440.60,201.60L443.20,201.60M265.30,327.40L266.70,327.40M441.80,327.40L443.20,327.40M265.30,312.60L266.70,312.60M441.80,312.60L443.20,312.60M265.30,297.80L266.70,297.80M441.80,297.80L443.20,297.80M265.30,283.00L266.70,283.00M441.80,283.00L443.20,283.00M265.30,268.20L266.70,268.20M441.80,268.20L443.20,268.20M265.30,253.40L266.70,253.40M441.80,253.40L443.20,253.40M265.30,238.60L266.70,238.60M441.80,238.60L443.20,238.60M265.30,223.80L266.70,223.80M441.80,223.80L443.20,223.80M265.30,209.00L266.70,209.00M441.80,209.00L443.20,209.00M265.30,194.20L266.70,194.20M441.80,194.20L443.20,194.20M282.00,334.90L282.00,337.50M282.00,194.00L282.00,196.60M308.10,334.90L308.10,337.50M308.10,194.00L308.10,196.60M334.20,334.90L334.20,337.50M334.20,194.00L334.20,196.60M360.30,334.90L360.30,337.50M360.30,194.00L360.30,196.60M386.40,334.90L386.40,337.50M386.40,194.00L386.40,196.60M412.50,334.90L412.50,337.50M412.50,194.00L412.50,196.60M438.60,334.90L438.60,337.50M438.60,194.00L438.60,196.60M268.95,334.90L268.95,336.30M268.95,194.00L268.95,195.40M295.05,334.90L295.05,336.30M295.05,194.00L295.05,195.40M321.15,334.90L321.15,336.30M321.15,194.00L321.15,195.40M347.25,334.90L347.25,336.30M347.25,194.00L347.25,195.40M373.35,334.90L373.35,336.30M373.35,194.00L373.35,195.40M399.45,334.90L399.45,336.30M399.45,194.00L399.45,195.40M425.55,334.90L425.55,336.30M425.55,194.00L425.55,195.40" fill="none" stroke="#1c1c1c" stroke-width="1.15"/>
<text transform="translate(283.50 211.60)" font-size="12.5" text-anchor="start" font-family='"Liberation Serif", serif' fill="#1c1c1c" stroke="#1c1c1c" stroke-width="0.15">D.</text>
<text font-family='"Liberation Sans", sans-serif' fill="#1c1c1c" stroke="#1c1c1c" stroke-width="0.2" font-size="7.5"><tspan x="342.00" y="355.90">K</tspan><tspan x="346.30" y="358.90" font-size="4">A</tspan><tspan x="351.15" y="355.90">(</tspan><tspan x="354.70" y="355.90">M</tspan><tspan x="361.10" y="352.40" font-size="3.6">-1</tspan><tspan x="365.70" y="355.90">)</tspan></text>
<text transform="translate(247.00 269.20) rotate(-90) scale(0.93,1)" font-size="7.5" text-anchor="middle" font-family='"Liberation Sans", sans-serif' fill="#1c1c1c" stroke="#1c1c1c" stroke-width="0.22">Frequency</text>
<rect x="284.30" y="510.37" width="14.77" height="11.43" fill="url(#hatch)" stroke="#1c1c1c" stroke-width="1.0"/>
<rect x="299.07" y="468.65" width="14.77" height="53.15" fill="url(#hatch)" stroke="#1c1c1c" stroke-width="1.0"/>
<rect x="313.84" y="430.36" width="14.77" height="91.44" fill="url(#hatch)" stroke="#1c1c1c" stroke-width="1.0"/>
<rect x="328.61" y="390.35" width="14.77" height="131.44" fill="url(#hatch)" stroke="#1c1c1c" stroke-width="1.0"/>
<rect x="343.38" y="415.50" width="14.77" height="106.30" fill="url(#hatch)" stroke="#1c1c1c" stroke-width="1.0"/>
<rect x="358.15" y="450.36" width="14.77" height="71.44" fill="url(#hatch)" stroke="#1c1c1c" stroke-width="1.0"/>
<rect x="372.92" y="477.22" width="14.77" height="44.58" fill="url(#hatch)" stroke="#1c1c1c" stroke-width="1.0"/>
<rect x="387.69" y="492.37" width="14.77" height="29.43" fill="url(#hatch)" stroke="#1c1c1c" stroke-width="1.0"/>
<rect x="402.46" y="502.65" width="14.77" height="19.15" fill="url(#hatch)" stroke="#1c1c1c" stroke-width="1.0"/>
<rect x="417.23" y="515.28" width="14.77" height="6.52" fill="url(#hatch)" stroke="#1c1c1c" stroke-width="1.0"/>
<rect x="432.00" y="520.66" width="6.20" height="1.14" fill="url(#hatch)" stroke="#1c1c1c" stroke-width="1.0"/>
<rect x="261.70" y="380.20" width="176.50" height="141.90" fill="none" stroke="#1c1c1c" stroke-width="1.15"/>
<text transform="translate(257.70 523.80) scale(0.9,1)" font-size="6.3" text-anchor="end" font-family='"Liberation Sans", sans-serif' fill="#1c1c1c" stroke="#1c1c1c" stroke-width="0.2">0</text>
<text transform="translate(257.70 512.37) scale(0.9,1)" font-size="6.3" text-anchor="end" font-family='"Liberation Sans", sans-serif' fill="#1c1c1c" stroke="#1c1c1c" stroke-width="0.2">20</text>
<text transform="translate(257.70 500.94) scale(0.9,1)" font-size="6.3" text-anchor="end" font-family='"Liberation Sans", sans-serif' fill="#1c1c1c" stroke="#1c1c1c" stroke-width="0.2">40</text>
<text transform="translate(257.70 489.51) scale(0.9,1)" font-size="6.3" text-anchor="end" font-family='"Liberation Sans", sans-serif' fill="#1c1c1c" stroke="#1c1c1c" stroke-width="0.2">60</text>
<text transform="translate(257.70 478.08) scale(0.9,1)" font-size="6.3" text-anchor="end" font-family='"Liberation Sans", sans-serif' fill="#1c1c1c" stroke="#1c1c1c" stroke-width="0.2">80</text>
<text transform="translate(257.70 466.65) scale(0.9,1)" font-size="6.3" text-anchor="end" font-family='"Liberation Sans", sans-serif' fill="#1c1c1c" stroke="#1c1c1c" stroke-width="0.2">100</text>
<text transform="translate(257.70 455.22) scale(0.9,1)" font-size="6.3" text-anchor="end" font-family='"Liberation Sans", sans-serif' fill="#1c1c1c" stroke="#1c1c1c" stroke-width="0.2">120</text>
<text transform="translate(257.70 443.79) scale(0.9,1)" font-size="6.3" text-anchor="end" font-family='"Liberation Sans", sans-serif' fill="#1c1c1c" stroke="#1c1c1c" stroke-width="0.2">140</text>
<text transform="translate(257.70 432.36) scale(0.9,1)" font-size="6.3" text-anchor="end" font-family='"Liberation Sans", sans-serif' fill="#1c1c1c" stroke="#1c1c1c" stroke-width="0.2">160</text>
<text transform="translate(257.70 420.93) scale(0.9,1)" font-size="6.3" text-anchor="end" font-family='"Liberation Sans", sans-serif' fill="#1c1c1c" stroke="#1c1c1c" stroke-width="0.2">180</text>
<text transform="translate(257.70 409.50) scale(0.9,1)" font-size="6.3" text-anchor="end" font-family='"Liberation Sans", sans-serif' fill="#1c1c1c" stroke="#1c1c1c" stroke-width="0.2">200</text>
<text transform="translate(257.70 398.07) scale(0.9,1)" font-size="6.3" text-anchor="end" font-family='"Liberation Sans", sans-serif' fill="#1c1c1c" stroke="#1c1c1c" stroke-width="0.2">220</text>
<text transform="translate(257.70 386.64) scale(0.9,1)" font-size="6.3" text-anchor="end" font-family='"Liberation Sans", sans-serif' fill="#1c1c1c" stroke="#1c1c1c" stroke-width="0.2">240</text>
<text transform="translate(269.40 530.80) scale(0.9,1)" font-size="6.3" text-anchor="middle" font-family='"Liberation Sans", sans-serif' fill="#1c1c1c" stroke="#1c1c1c" stroke-width="0.2">1000000</text>
<text transform="translate(311.80 530.80) scale(0.9,1)" font-size="6.3" text-anchor="middle" font-family='"Liberation Sans", sans-serif' fill="#1c1c1c" stroke="#1c1c1c" stroke-width="0.2">2000000</text>
<text transform="translate(354.20 530.80) scale(0.9,1)" font-size="6.3" text-anchor="middle" font-family='"Liberation Sans", sans-serif' fill="#1c1c1c" stroke="#1c1c1c" stroke-width="0.2">3000000</text>
<text transform="translate(396.60 530.80) scale(0.9,1)" font-size="6.3" text-anchor="middle" font-family='"Liberation Sans", sans-serif' fill="#1c1c1c" stroke="#1c1c1c" stroke-width="0.2">4000000</text>
<text transform="translate(439.00 530.80) scale(0.9,1)" font-size="6.3" text-anchor="middle" font-family='"Liberation Sans", sans-serif' fill="#1c1c1c" stroke="#1c1c1c" stroke-width="0.2">5000000</text>
<path d="M259.10,521.80L261.70,521.80M435.60,521.80L438.20,521.80M259.10,510.37L261.70,510.37M435.60,510.37L438.20,510.37M259.10,498.94L261.70,498.94M435.60,498.94L438.20,498.94M259.10,487.51L261.70,487.51M435.60,487.51L438.20,487.51M259.10,476.08L261.70,476.08M435.60,476.08L438.20,476.08M259.10,464.65L261.70,464.65M435.60,464.65L438.20,464.65M259.10,453.22L261.70,453.22M435.60,453.22L438.20,453.22M259.10,441.79L261.70,441.79M435.60,441.79L438.20,441.79M259.10,430.36L261.70,430.36M435.60,430.36L438.20,430.36M259.10,418.93L261.70,418.93M435.60,418.93L438.20,418.93M259.10,407.50L261.70,407.50M435.60,407.50L438.20,407.50M259.10,396.07L261.70,396.07M435.60,396.07L438.20,396.07M259.10,384.64L261.70,384.64M435.60,384.64L438.20,384.64M260.30,516.08L261.70,516.08M436.80,516.08L438.20,516.08M260.30,504.65L261.70,504.65M436.80,504.65L438.20,504.65M260.30,493.22L261.70,493.22M436.80,493.22L438.20,493.22M260.30,481.79L261.70,481.79M436.80,481.79L438.20,481.79M260.30,470.36L261.70,470.36M436.80,470.36L438.20,470.36M260.30,458.93L261.70,458.93M436.80,458.93L438.20,458.93M260.30,447.50L261.70,447.50M436.80,447.50L438.20,447.50M260.30,436.07L261.70,436.07M436.80,436.07L438.20,436.07M260.30,424.64L261.70,424.64M436.80,424.64L438.20,424.64M260.30,413.21L261.70,413.21M436.80,413.21L438.20,413.21M260.30,401.78L261.70,401.78M436.80,401.78L438.20,401.78M260.30,390.35L261.70,390.35M436.80,390.35L438.20,390.35M269.80,522.10L269.80,524.70M269.80,380.20L269.80,382.80M312.20,522.10L312.20,524.70M312.20,380.20L312.20,382.80M354.60,522.10L354.60,524.70M354.60,380.20L354.60,382.80M397.00,522.10L397.00,524.70M397.00,380.20L397.00,382.80M439.40,522.10L439.40,524.70M439.40,380.20L439.40,382.80M291.00,522.10L291.00,523.50M291.00,380.20L291.00,381.60M333.40,522.10L333.40,523.50M333.40,380.20L333.40,381.60M375.80,522.10L375.80,523.50M375.80,380.20L375.80,381.60M418.20,522.10L418.20,523.50M418.20,380.20L418.20,381.60" fill="none" stroke="#1c1c1c" stroke-width="1.15"/>
<text transform="translate(282.50 397.30)" font-size="12.5" text-anchor="start" font-family='"Liberation Serif", serif' fill="#1c1c1c" stroke="#1c1c1c" stroke-width="0.15">F.</text>
<text font-family='"Liberation Sans", sans-serif' fill="#1c1c1c" stroke="#1c1c1c" stroke-width="0.2" font-size="7.5"><tspan x="336.90" y="543.80">K</tspan><tspan x="341.20" y="545.60" font-size="4">A</tspan><tspan x="346.05" y="543.80">(</tspan><tspan x="349.60" y="543.80">M</tspan><tspan x="356.00" y="540.30" font-size="3.6">-1</tspan><tspan x="360.60" y="543.80">)</tspan></text>
<text transform="translate(241.70 455.50) rotate(-90) scale(0.93,1)" font-size="7.5" text-anchor="middle" font-family='"Liberation Sans", sans-serif' fill="#1c1c1c" stroke="#1c1c1c" stroke-width="0.22">Frequency</text>
</svg>
</body></html>
